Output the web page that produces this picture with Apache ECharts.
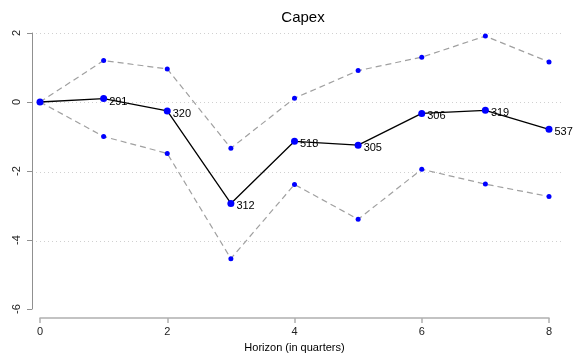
<!DOCTYPE html>
<html>
<head>
<meta charset="utf-8">
<script src="https://cdn.jsdelivr.net/npm/echarts@6/dist/echarts.min.js"></script>
<style>
  html, body { margin: 0; padding: 0; background: #fff; }
  #chart { width: 582px; height: 358px; }
</style>
</head>
<body>
<div id="chart"></div>
<script>
// Horizon in quarters
const horizon = [0, 1, 2, 3, 4, 5, 6, 7, 8];
// Point estimate of the Capex response
const estimate = [0, 0.10, -0.26, -2.94, -1.14, -1.25, -0.33, -0.24, -0.79];
// Upper and lower confidence bands
const upper = [0, 1.20, 0.96, -1.34, 0.11, 0.91, 1.30, 1.91, 1.16];
const lower = [0, -1.00, -1.49, -4.54, -2.39, -3.40, -1.95, -2.38, -2.74];
// Observation counts printed beside each estimate
const counts = [null, 291, 320, 312, 518, 305, 306, 319, 537];

const xTicks = [0, 2, 4, 6, 8];
const yTicks = [-6, -4, -2, 0, 2];
// Dotted reference lines are drawn from -4 up to 2
const gridLevels = [-4, -2, 0, 2];

const FONT = '"Liberation Sans", Arial, Helvetica, sans-serif';
const pair = (xs, ys) => xs.map((x, i) => [x, ys[i]]);

const chart = echarts.init(document.getElementById('chart'), null, { renderer: 'canvas' });

const PLOT_TOP = 33;
const PLOT_H = 278;
const unitPx = PLOT_H / (yTicks[yTicks.length - 1] - yTicks[0]);

const bandStyle = {
  type: 'line',
  xAxisIndex: 0,
  yAxisIndex: 0,
  symbol: 'circle',
  symbolSize: 5,
  itemStyle: { color: '#0000ff' },
  lineStyle: { color: '#a0a0a0', width: 1.2, type: [6, 4] },
  z: 2,
  animation: false
};

chart.setOption({
  animation: false,
  title: {
    text: 'Capex',
    left: 298,
    top: 5,
    textAlign: 'center',
    textStyle: { fontFamily: FONT, fontSize: 15, fontWeight: 'normal', color: '#000' }
  },
  grid: [
    { left: 40, top: PLOT_TOP, width: 509, height: PLOT_H },
    {
      left: 32,
      top: PLOT_TOP,
      width: 532,
      height: unitPx * (gridLevels[gridLevels.length - 1] - gridLevels[0])
    }
  ],
  xAxis: [
    {
      type: 'value',
      gridIndex: 0,
      min: xTicks[0],
      max: xTicks[xTicks.length - 1],
      interval: 2,
      offset: 9,
      name: 'Horizon (in quarters)',
      nameLocation: 'middle',
      nameGap: 24,
      nameTextStyle: { fontFamily: FONT, fontSize: 11, color: '#000' },
      axisLine: { show: true, onZero: false, lineStyle: { color: '#b0b0b0', width: 1.5 } },
      axisTick: { show: true, length: 5, lineStyle: { color: '#b0b0b0', width: 1.5 } },
      axisLabel: { fontFamily: FONT, fontSize: 11, color: '#222', margin: 8 },
      splitLine: { show: false }
    },
    {
      type: 'value',
      gridIndex: 1,
      min: 0,
      max: 1,
      show: false
    }
  ],
  yAxis: [
    {
      type: 'value',
      gridIndex: 0,
      min: yTicks[0],
      max: yTicks[yTicks.length - 1],
      interval: 2,
      offset: 8,
      axisLine: { show: true, onZero: false, lineStyle: { color: '#909090', width: 1 } },
      axisTick: { show: true, length: 5, lineStyle: { color: '#909090', width: 1 } },
      axisLabel: { fontFamily: FONT, fontSize: 11, color: '#222', rotate: 90, margin: 10 },
      splitLine: { show: false }
    },
    {
      type: 'value',
      gridIndex: 1,
      min: gridLevels[0],
      max: gridLevels[gridLevels.length - 1],
      interval: 2,
      axisLine: { show: false },
      axisTick: { show: false },
      axisLabel: { show: false },
      splitLine: {
        show: true,
        lineStyle: { color: '#d0d0d0', width: 1, type: [1, 3] }
      }
    }
  ],
  series: [
    Object.assign({ name: 'upper', data: pair(horizon, upper) }, bandStyle),
    Object.assign({ name: 'lower', data: pair(horizon, lower) }, bandStyle),
    {
      name: 'estimate',
      type: 'line',
      xAxisIndex: 0,
      yAxisIndex: 0,
      data: pair(horizon, estimate),
      symbol: 'circle',
      symbolSize: 7,
      itemStyle: { color: '#0000ff' },
      lineStyle: { color: '#000', width: 1.3 },
      z: 3,
      label: {
        show: true,
        position: 'right',
        distance: 2,
        offset: [0, 3],
        fontFamily: FONT,
        fontSize: 11,
        color: '#000',
        formatter: p => (counts[p.dataIndex] == null ? '' : String(counts[p.dataIndex]))
      }
    }
  ]
});
</script>
</body>
</html>
